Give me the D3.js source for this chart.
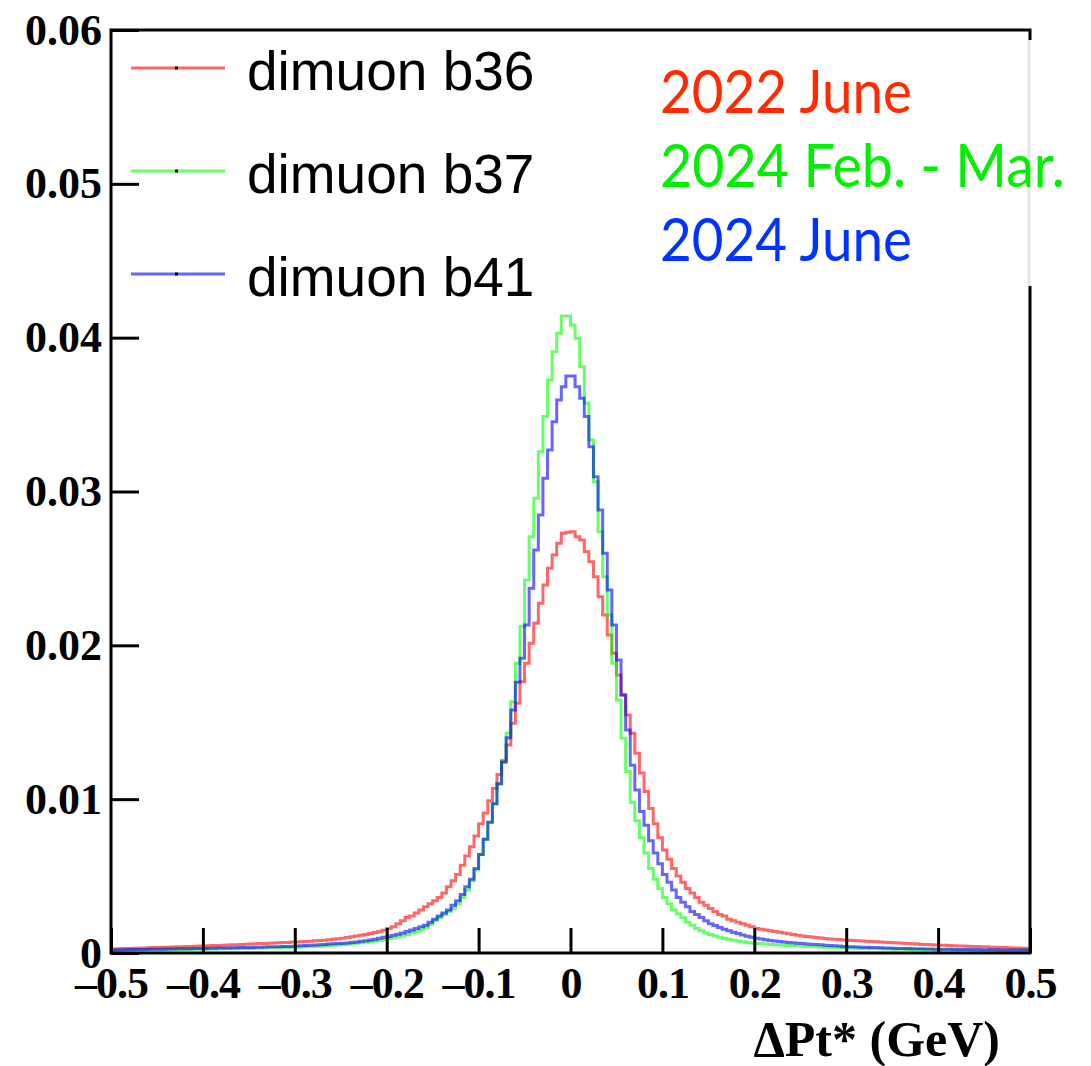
<!DOCTYPE html>
<html>
<head>
<meta charset="utf-8">
<script src="https://cdn.jsdelivr.net/npm/d3@7/dist/d3.min.js"></script>
<style>
  body { margin: 0; background: #fff; }
  svg { display: block; }
</style>
</head>
<body>
<svg id="chart" width="1091" height="1066"></svg>
<script>
// histogram binning: 200 bins from -0.5 to 0.5 GeV
var xMin = -0.5, xMax = 0.5, nBins = 200;

var xMajorTicks = [-0.5, -0.4, -0.3, -0.2, -0.1, 0, 0.1, 0.2, 0.3, 0.4, 0.5];
var yMajorTicks = [0, 0.01, 0.02, 0.03, 0.04, 0.05, 0.06];

var legendLabels = ["dimuon b36", "dimuon b37", "dimuon b41"];
var periodLabels = ["2022 June", "2024 Feb. - Mar.", "2024 June"];

// b36 (red)
var b36 = [
  .00026, .00027, .00028, .00029, .00030, .00031, .00032, .00033, .00034, .00035,
  .00036, .00037, .00038, .00039, .00040, .00041, .00042, .00043, .00044, .00045,
  .00046, .00047, .00048, .00049, .00050, .00052, .00053, .00054, .00056, .00057,
  .00058, .00060, .00061, .00062, .00064, .00065, .00066, .00068, .00069, .00071,
  .00072, .00073, .00075, .00077, .00079, .00081, .00083, .00086, .00089, .00092,
  .00096, .00100, .00105, .00110, .00115, .00121, .00127, .00133, .00140, .00148,
  .0016, .0017, .0019, .0021, .0023, .0024, .0026, .0028, .0030, .0032,
  .0034, .0036, .0039, .0043, .0047, .0051, .0057, .0063, .0069, .0076,
  .0084, .0091, .0099, .0107, .0116, .0125, .01352, .01493, .01623, .01764,
  .01883, .02013, .02143, .02273, .02392, .02501, .02587, .02663, .02728, .02735,
  .02739, .02706, .02685, .02609, .02544, .02446, .02316, .02197, .02067, .01948,
  .01807, .01677, .01547, .01428, .01298, .0117, .0105, .0094, .0084, .0075,
  .0067, .0061, .0055, .0050, .0046, .0042, .0039, .0036, .0033, .0031,
  .0029, .0027, .0025, .0024, .0022, .0021, .0020, .0019, .0018, .0017,
  .0016, .00155, .0015, .00145, .0014, .00135, .0013, .00125, .0012, .00115,
  .0011, .00107, .00104, .0010, .00097, .00094, .00091, .00089, .00087, .00085,
  .00083, .00081, .00080, .00078, .00076, .00075, .00073, .00071, .00070, .00068,
  .00066, .00065, .00063, .00061, .00060, .00058, .00056, .00055, .00053, .00052,
  .00051, .00050, .00048, .00047, .00046, .00045, .00044, .00043, .00042, .00041,
  .00040, .00038, .00037, .00036, .00035, .00034, .00033, .00032, .00031, .00030
];

// b37 (green)
var b37 = [
  .00015, .00016, .00016, .00017, .00017, .00018, .00018, .00019, .00019, .00020,
  .00020, .00021, .00021, .00022, .00022, .00023, .00023, .00024, .00024, .00025,
  .00025, .00026, .00026, .00027, .00027, .00028, .00028, .00029, .00029, .00030,
  .00030, .00031, .00031, .00032, .00033, .00034, .00034, .00035, .00036, .00037,
  .00038, .00039, .00040, .00041, .00042, .00044, .00046, .00048, .00050, .00052,
  .00055, .00057, .00060, .00063, .00066, .00070, .00073, .00077, .00081, .00086,
  .00092, .00098, .00105, .00112, .0012, .0013, .0014, .0015, .00165, .00185,
  .0021, .0023, .0025, .0027, .0029, .0032, .0036, .0041, .0047, .0054,
  .0064, .0074, .0085, .0097, .0110, .0125, .01428, .01634, .01883, .02121,
  .02425, .02706, .02956, .03259, .03487, .03725, .03909, .04028, .04141, .04141,
  .04082, .03996, .03811, .03573, .03335, .03064, .02739, .02446, .02197, .01883,
  .01645, .01396, .0118, .0098, .0086, .0075, .0065, .0055, .0048, .0042,
  .0036, .0032, .0028, .00255, .0023, .0020, .0018, .0016, .00145, .0013,
  .0012, .0011, .00102, .00095, .00089, .00083, .00078, .00073, .00069, .00065,
  .00062, .00060, .00058, .00056, .00054, .00052, .00050, .00049, .00047, .00046,
  .00044, .00043, .00041, .00040, .00039, .00037, .00036, .00035, .00034, .00033,
  .00032, .00031, .00030, .00030, .00029, .00028, .00028, .00027, .00026, .00026,
  .00025, .00024, .00024, .00023, .00023, .00022, .00022, .00021, .00021, .00020,
  .00020, .00019, .00019, .00019, .00018, .00018, .00018, .00017, .00017, .00017,
  .00016, .00016, .00016, .00016, .00015, .00015, .00015, .00015, .00014, .00014
];

// b41 (blue)
var b41 = [
  .00020, .00020, .00021, .00021, .00022, .00022, .00023, .00023, .00024, .00024,
  .00025, .00025, .00026, .00026, .00027, .00027, .00028, .00028, .00029, .00030,
  .00030, .00031, .00031, .00032, .00032, .00033, .00034, .00034, .00035, .00036,
  .00036, .00037, .00038, .00039, .00040, .00041, .00041, .00042, .00043, .00044,
  .00045, .00047, .00048, .00050, .00052, .00054, .00056, .00058, .00060, .00061,
  .00063, .00065, .00068, .00072, .00076, .0008, .00085, .0009, .00096, .00102,
  .00108, .00115, .00122, .0013, .0014, .0015, .0016, .0017, .0018, .0020,
  .0022, .0024, .0026, .0028, .0031, .0034, .0038, .0043, .0048, .0055,
  .0064, .0074, .0085, .0097, .0110, .0124, .0140, .0158, .0176, .01916,
  .02132, .02371, .0262, .02847, .03086, .0327, .03454, .03595, .03681, .03751,
  .03751, .03681, .03606, .03487, .03291, .03096, .0288, .02598, .0236, .02132,
  .01905, .01677, .0145, .0122, .0106, .0092, .0083, .0073, .0065, .0058,
  .0051, .0046, .0041, .0036, .0033, .0030, .0027, .0025, .0023, .0021,
  .0019, .00178, .00166, .00155, .00145, .00135, .00126, .00117, .00109, .00102,
  .00096, .00091, .00086, .00082, .00078, .00075, .00072, .00069, .00066, .00064,
  .00061, .00059, .00057, .00055, .00053, .00051, .00049, .00047, .00045, .00043,
  .00041, .00040, .00039, .00038, .00037, .00036, .00035, .00034, .00033, .00032,
  .00031, .00030, .00030, .00029, .00028, .00027, .00027, .00026, .00026, .00025,
  .00025, .00024, .00024, .00023, .00023, .00023, .00022, .00022, .00022, .00021,
  .00021, .00021, .00021, .00020, .00020, .00020, .00020, .00020, .00019, .00019
];

var series = [
  {name: legendLabels[0], values: b36, color: "rgba(255,0,0,0.6)"},
  {name: legendLabels[1], values: b37, color: "rgba(0,255,0,0.6)"},
  {name: legendLabels[2], values: b41, color: "rgba(0,0,255,0.6)"}
];
var periodColors = ["#ff2a00", "#00f000", "#0033ff"];

var frameLeft = 111, frameRight = 1030, frameTop = 30, frameBottom = 953;

var svg = d3.select("#chart");
svg.append("rect").attr("width", 1091).attr("height", 1066).attr("fill", "#fff");

var x = d3.scaleLinear().domain([xMin, xMax]).range([frameLeft, frameRight]);
var y = d3.scaleLinear().domain([0, 0.06]).range([frameBottom, frameTop]);

var binWidth = (xMax - xMin) / nBins;

// histograms as step outlines
var line = d3.line()
    .x(d => x(d[0]))
    .y(d => y(d[1]))
    .curve(d3.curveStepAfter);

var hists = svg.append("g").attr("id", "hists");
series.forEach(function(s){
  var pts = s.values.map((v, i) => [xMin + i * binWidth, v]);
  pts.push([xMax, s.values[s.values.length - 1]]);
  hists.append("path")
    .attr("d", line(pts))
    .attr("fill", "none")
    .attr("stroke", s.color)
    .attr("stroke-width", 3);
});

// minor ticks every 1/5 of a major division
var xMinor = d3.range(0, 51).map(i => xMin + i * 0.02);
var yMinor = d3.range(0, 31).map(i => i * 0.002);

var axisFont = "'Liberation Serif', 'Times New Roman', serif";

var gx = svg.append("g").attr("transform", "translate(0," + frameBottom + ")");
gx.call(d3.axisBottom(x).tickValues(xMinor).tickSize(-12).tickSizeOuter(0).tickFormat(""));
gx.call(d3.axisBottom(x).tickValues(xMajorTicks).tickSize(-25).tickSizeOuter(0).tickPadding(14)
    .tickFormat(d => Math.abs(d) < 1e-9 ? "0" : (d < 0 ? "\u2013" : "") + Math.abs(d).toFixed(1)));

var gy = svg.append("g").attr("transform", "translate(" + frameLeft + ",0)");
gy.call(d3.axisLeft(y).tickValues(yMinor).tickSize(-14).tickSizeOuter(0).tickFormat(""));
gy.call(d3.axisLeft(y).tickValues(yMajorTicks).tickSize(-28).tickSizeOuter(0).tickPadding(9)
    .tickFormat(d => d === 0 ? "0" : d.toFixed(2)));

svg.selectAll(".domain").remove();
svg.selectAll(".tick line").attr("stroke", "#000").attr("stroke-width", 3);
svg.selectAll(".tick text")
  .attr("fill", "#000")
  .style("font-family", axisFont)
  .style("font-weight", "bold")
  .style("font-size", "44px");
gx.selectAll(".tick text").attr("letter-spacing", "-1");

// frame
svg.append("rect")
  .attr("x", frameLeft).attr("y", frameTop)
  .attr("width", frameRight - frameLeft).attr("height", frameBottom - frameTop)
  .attr("fill", "none")
  .attr("stroke", "#000")
  .attr("stroke-width", 3);

// axis title
svg.append("text")
  .attr("x", 1000).attr("y", 1056)
  .attr("text-anchor", "end")
  .style("font-family", axisFont)
  .style("font-weight", "bold")
  .style("font-size", "50px")
  .text("\u0394Pt* (GeV)");

// legend
var legend = svg.append("g").attr("id", "legend");
var legendY = [68, 171, 274];
series.forEach(function(s, i){
  legend.append("line")
    .attr("x1", 131).attr("x2", 225)
    .attr("y1", legendY[i]).attr("y2", legendY[i])
    .attr("stroke", s.color)
    .attr("stroke-width", 3);
  legend.append("rect")
    .attr("x", 175).attr("y", legendY[i] - 1.5)
    .attr("width", 3).attr("height", 3)
    .attr("fill", "#000");
  legend.append("text")
    .attr("x", 247).attr("y", legendY[i] + 22)
    .style("font-family", "'Liberation Sans', Arial, sans-serif")
    .style("font-size", "55px")
    .attr("fill", "#000")
    .text(s.name);
});

// pasted-in period labels box
var box = svg.append("g").attr("id", "periods");
box.append("rect")
  .attr("x", 645).attr("y", 40)
  .attr("width", 446).attr("height", 246)
  .attr("fill", "#fff");
box.append("line")
  .attr("x1", frameRight - 1).attr("x2", frameRight - 1)
  .attr("y1", 40).attr("y2", 286)
  .attr("stroke", "#e6e6e6")
  .attr("stroke-width", 3);
var periodWidths = [252, 405, 252];
periodLabels.forEach(function(t, i){
  box.append("text")
    .attr("x", 660).attr("y", 113 + i * 74)
    .attr("textLength", periodWidths[i])
    .attr("lengthAdjust", "spacingAndGlyphs")
    .style("font-family", "Lato, 'Open Sans', sans-serif")
    .style("font-size", "60px")
    .attr("fill", periodColors[i])
    .text(t);
});
</script>
</body>
</html>
